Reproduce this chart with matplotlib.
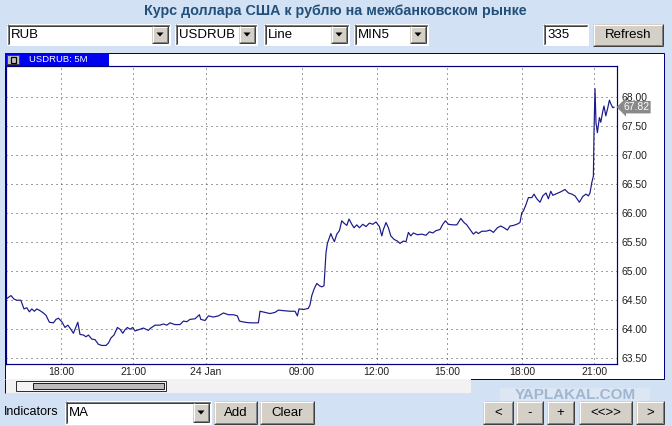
import matplotlib
matplotlib.use('Agg')
import matplotlib.pyplot as plt
import matplotlib.patches as patches
import matplotlib.transforms as mtransforms

# bar number (5-minute bars, gaps in time are skipped) and USD/RUB price
bar_pos = [0, 2.5, 4, 5.4, 7.4, 9, 10.4, 11.7, 12.9, 14.2, 15.4, 17, 18.7, 20, 21.7,
           23.7, 25, 26.2, 27.9, 29.5, 30.9, 32.4, 33.7, 35, 35.9, 37, 38.7, 40,
           41.2, 42.9, 44.5, 46.2, 47.9, 50, 51.2, 52.5, 54, 55.7, 57, 58.4, 59.5,
           60.7, 62, 63.4, 64.5, 66.2, 68.7, 71.2, 72, 74.5, 77, 78.7, 80.4, 82,
           84.5, 87, 88.7, 90.4, 92, 94.5, 96.7, 97.4, 99.5, 101.2, 103.7, 106.2,
           108.7, 111.2, 113.7, 115.7, 116.7, 119.5, 122, 124.5, 126.2, 127, 129.5,
           132, 134.5, 136.2, 138.7, 142, 144.5, 145.7, 146.5, 148.7, 151.2, 152,
           152.9, 154, 155.4, 156.7, 157.9, 159, 160, 160.7, 162.4, 163.2, 164.2,
           165.4, 166.7, 167.9, 169, 170.4, 171.5, 172.9, 174, 175.4, 176.7, 178.4,
           180, 181.7, 183.4, 185, 186.7, 187.9, 188.7, 190, 191.2, 192.4, 194,
           195.7, 197, 198.7, 200, 201.2, 202.4, 203.7, 205.7, 207.9, 210, 211.7,
           213.4, 215, 217, 218.4, 219.7, 221.2, 223.4, 225.4, 227.4, 229, 230.4,
           232, 233.7, 235, 236.2, 237.9, 240, 242, 243.7, 245.7, 247.4, 249, 250.7,
           252, 253.7, 255.4, 257, 257.9, 258.7, 260, 261.2, 262.9, 264, 265.4, 267,
           268.4, 270, 271.2, 272.4, 273.4, 275.4, 277.4, 279.5, 281.2, 282.9,
           284.5, 286.7, 288.4, 290, 291.2, 292, 292.9, 293.7, 294, 294.5, 295,
           295.7, 296.7, 297.4, 298.4, 299, 299.9, 300.9, 301.7, 302.5, 303.4, 304]
usdrub = [64.51, 64.57, 64.51, 64.49, 64.49, 64.34, 64.36, 64.29, 64.34, 64.30, 64.34,
          64.31, 64.27, 64.23, 64.11, 64.10, 64.16, 64.18, 64.12, 64.02, 64.06, 63.99,
          63.92, 64.03, 64.11, 63.90, 63.89, 63.86, 63.89, 63.82, 63.81, 63.73, 63.71,
          63.71, 63.75, 63.84, 63.89, 64.02, 63.99, 63.92, 63.98, 64.02, 63.99, 64.02,
          63.96, 63.98, 64.01, 63.97, 64.00, 64.06, 64.06, 64.08, 64.06, 64.10, 64.07,
          64.07, 64.13, 64.12, 64.16, 64.17, 64.24, 64.16, 64.14, 64.22, 64.20, 64.22,
          64.27, 64.24, 64.24, 64.22, 64.13, 64.11, 64.10, 64.10, 64.10, 64.30, 64.28,
          64.26, 64.28, 64.32, 64.31, 64.30, 64.30, 64.22, 64.34, 64.33, 64.35, 64.41,
          64.57, 64.68, 64.78, 64.74, 64.72, 64.74, 65.31, 65.47, 65.64, 65.57, 65.50,
          65.63, 65.69, 65.86, 65.82, 65.78, 65.89, 65.80, 65.74, 65.79, 65.74, 65.80,
          65.76, 65.82, 65.80, 65.84, 65.76, 65.60, 65.71, 65.83, 65.74, 65.60, 65.54,
          65.51, 65.47, 65.51, 65.50, 65.66, 65.60, 65.65, 65.62, 65.63, 65.61, 65.67,
          65.65, 65.69, 65.71, 65.80, 65.86, 65.80, 65.79, 65.79, 65.90, 65.83, 65.79,
          65.71, 65.63, 65.67, 65.64, 65.68, 65.68, 65.70, 65.66, 65.74, 65.77, 65.74,
          65.70, 65.77, 65.78, 65.80, 65.83, 66.00, 66.03, 66.14, 66.26, 66.26, 66.32,
          66.24, 66.18, 66.29, 66.34, 66.24, 66.37, 66.30, 66.33, 66.36, 66.40, 66.34,
          66.32, 66.29, 66.18, 66.28, 66.32, 66.29, 66.34, 66.52, 66.63, 67.38, 68.14,
          67.55, 67.38, 67.64, 67.56, 67.75, 67.84, 67.67, 67.81, 67.94, 67.87, 67.81,
          67.82]

tick_bars = [27.4, 63.7, 100, 148, 185.3, 220.7, 257.9, 294.2]
tick_labels = ['18:00', '21:00', '24 Jan', '09:00', '12:00', '15:00', '18:00', '21:00']
price_ticks = [63.5, 64.0, 64.5, 65.0, 65.5, 66.0, 66.5, 67.0, 67.5, 68.0]

title = 'Курс доллара США к рублю на межбанковском рынке'

W, H = 672, 426
BG = '#d2e2f4'
NAVY = '#000080'
FACE = '#d4d0c8'
PX = 0.72  # one pixel in points at dpi 100

plt.rcParams['font.family'] = ['Liberation Sans', 'DejaVu Sans']

fig = plt.figure(figsize=(W / 100, H / 100), dpi=100, facecolor=BG)

# full-figure axes in pixel units for the widget furniture
ui = fig.add_axes([0, 0, 1, 1])
ui.set_xlim(0, W)
ui.set_ylim(H, 0)
ui.axis('off')


def hline(x0, x1, y, c):
    ui.plot([x0, x1], [y, y], color=c, lw=PX, solid_capstyle='butt')


def vline(x, y0, y1, c):
    ui.plot([x, x], [y0, y1], color=c, lw=PX, solid_capstyle='butt')


def raised(x0, y0, x1, y1, face=FACE):
    ui.add_patch(patches.Rectangle((x0, y0), x1 - x0, y1 - y0, fc=face, ec='none'))
    hline(x0, x1, y0 + 0.5, 'white')
    vline(x0 + 0.5, y0, y1, 'white')
    hline(x0, x1, y1 - 0.5, '#404040')
    vline(x1 - 0.5, y0, y1, '#404040')
    hline(x0 + 1, x1 - 1, y1 - 1.5, '#808080')
    vline(x1 - 1.5, y0 + 1, y1 - 1, '#808080')


def sunken(x0, y0, x1, y1, face='white'):
    ui.add_patch(patches.Rectangle((x0, y0), x1 - x0, y1 - y0, fc=face, ec='none'))
    hline(x0, x1, y0 + 0.5, '#808080')
    vline(x0 + 0.5, y0, y1, '#808080')
    hline(x0 + 1, x1 - 1, y0 + 1.5, '#404040')
    vline(x0 + 1.5, y0 + 1, y1 - 1, '#404040')
    hline(x0, x1, y1 - 0.5, 'white')
    vline(x1 - 0.5, y0, y1, 'white')


def combo(x0, y0, x1, y1, text):
    sunken(x0, y0, x1, y1)
    raised(x1 - 18, y0 + 2, x1 - 2, y1 - 2)
    cx, cy = x1 - 10, (y0 + y1) / 2
    ui.add_patch(patches.Polygon([(cx - 3.5, cy - 2), (cx + 3.5, cy - 2), (cx, cy + 2)],
                                 closed=True, fc='black', ec='none'))
    ui.text(x0 + 4, cy + 0.5, text, fontsize=9.5, ha='left', va='center', color='black')


def button(x0, y0, x1, y1, text):
    raised(x0, y0, x1, y1)
    ui.text((x0 + x1) / 2, (y0 + y1) / 2 + 0.5, text, fontsize=9.5, ha='center',
            va='center', color='black')


# title and top controls
ui.text(335.5, 10.5, title, fontsize=10.3, fontweight='bold', color='#22507a',
        ha='center', va='center')
combo(7, 24, 170, 45, 'RUB')
combo(175, 24, 257, 45, 'USDRUB')
combo(264, 24, 349, 45, 'Line')
combo(354, 24, 428, 45, 'MIN5')
sunken(543, 24, 588, 45)
ui.text(547, 35, '335', fontsize=9.5, ha='left', va='center', color='black')
button(593, 24, 663, 46, 'Refresh')

# chart panel
ui.add_patch(patches.Rectangle((4.5, 52.5), 659, 326.5, fc='white', ec=NAVY, lw=PX))
ui.add_patch(patches.Rectangle((4.5, 379), 466, 14, fc='#f2f2f2', ec='none'))
vline(4.5, 379, 393, NAVY)
# scrollbar
ui.add_patch(patches.Rectangle((15.5, 380.5), 150, 10, fc='#f4f4f4', ec='#303030', lw=PX))
ui.add_patch(patches.Rectangle((33, 382.5), 131, 6.5, fc='#bdbdbd', ec='#202020', lw=PX))

# chart tab
ui.add_patch(patches.Rectangle((5, 53), 104, 13, fc='#0000f0', ec='none'))
ui.add_patch(patches.Rectangle((7, 55), 12, 9, fc='#c0c0c0', ec='#404040', lw=PX))
ui.add_patch(patches.Rectangle((10.5, 56.5), 5, 6, fc='none', ec='black', lw=1.2 * PX))
ui.text(29, 59.5, 'USDRUB: 5M', fontsize=6.8, color='white', ha='left', va='center')

# bottom controls
ui.text(4, 412, 'Indicators', fontsize=9, ha='left', va='center', color='black')
combo(65, 401, 211, 424, 'MA')
button(214, 401, 257, 424, 'Add')
button(260, 401, 314, 424, 'Clear')
ui.add_patch(patches.Rectangle((500, 388), 150, 13, fc='#e1e9f3', ec='none', alpha=0.8))
ui.text(575, 395, 'YAPLAKAL.COM', fontsize=11, fontweight='bold', color='#9fb6d3',
        ha='center', va='center')
for (x0, x1), t in zip([(483, 513), (516, 543), (547, 574), (579, 632), (636, 664)],
                       ['<', '-', '+', '<<>>', '>']):
    button(x0, 401, x1, 424, t)

# price chart
left, right, top, bottom = 6, 617, 66, 364
ax = fig.add_axes([left / W, (H - bottom) / H, (right - left) / W, (bottom - top) / H])
ax.set_facecolor('white')
ax.plot(bar_pos, usdrub, color='#1a1a8a', lw=1.0 * PX * 1.2, zorder=3)
ax.set_xlim(0, 305.5)
ax.set_ylim(63.39, 68.53)

ax.set_xticks(tick_bars)
ax.set_xticklabels(tick_labels)
ax.set_yticks(price_ticks)
ax.set_yticklabels([f'{v:.2f}' for v in price_ticks])
ax.yaxis.tick_right()
ax.tick_params(axis='both', length=0, labelsize=7.5, labelcolor='#202020')
ax.tick_params(axis='y', pad=3)
ax.tick_params(axis='x', pad=2.5)
ax.grid(True, color='#444444', lw=PX, linestyle=(0, (1, 4)))
for s in ax.spines.values():
    s.set_color(NAVY)
    s.set_linewidth(PX * 1.2)

# last price marker
blend = mtransforms.blended_transform_factory(ax.transAxes, ax.transData)
ax.annotate(f'{usdrub[-1]:.2f}', xy=(1.0, usdrub[-1]), xycoords=blend,
            xytext=(4.5, 0), textcoords='offset points', ha='left', va='center',
            fontsize=7.5, color='white', annotation_clip=False,
            bbox=dict(boxstyle='larrow,pad=0.12', fc='#8a8a8a', ec='none'))

fig.savefig('out.png', dpi=100, facecolor=BG)
